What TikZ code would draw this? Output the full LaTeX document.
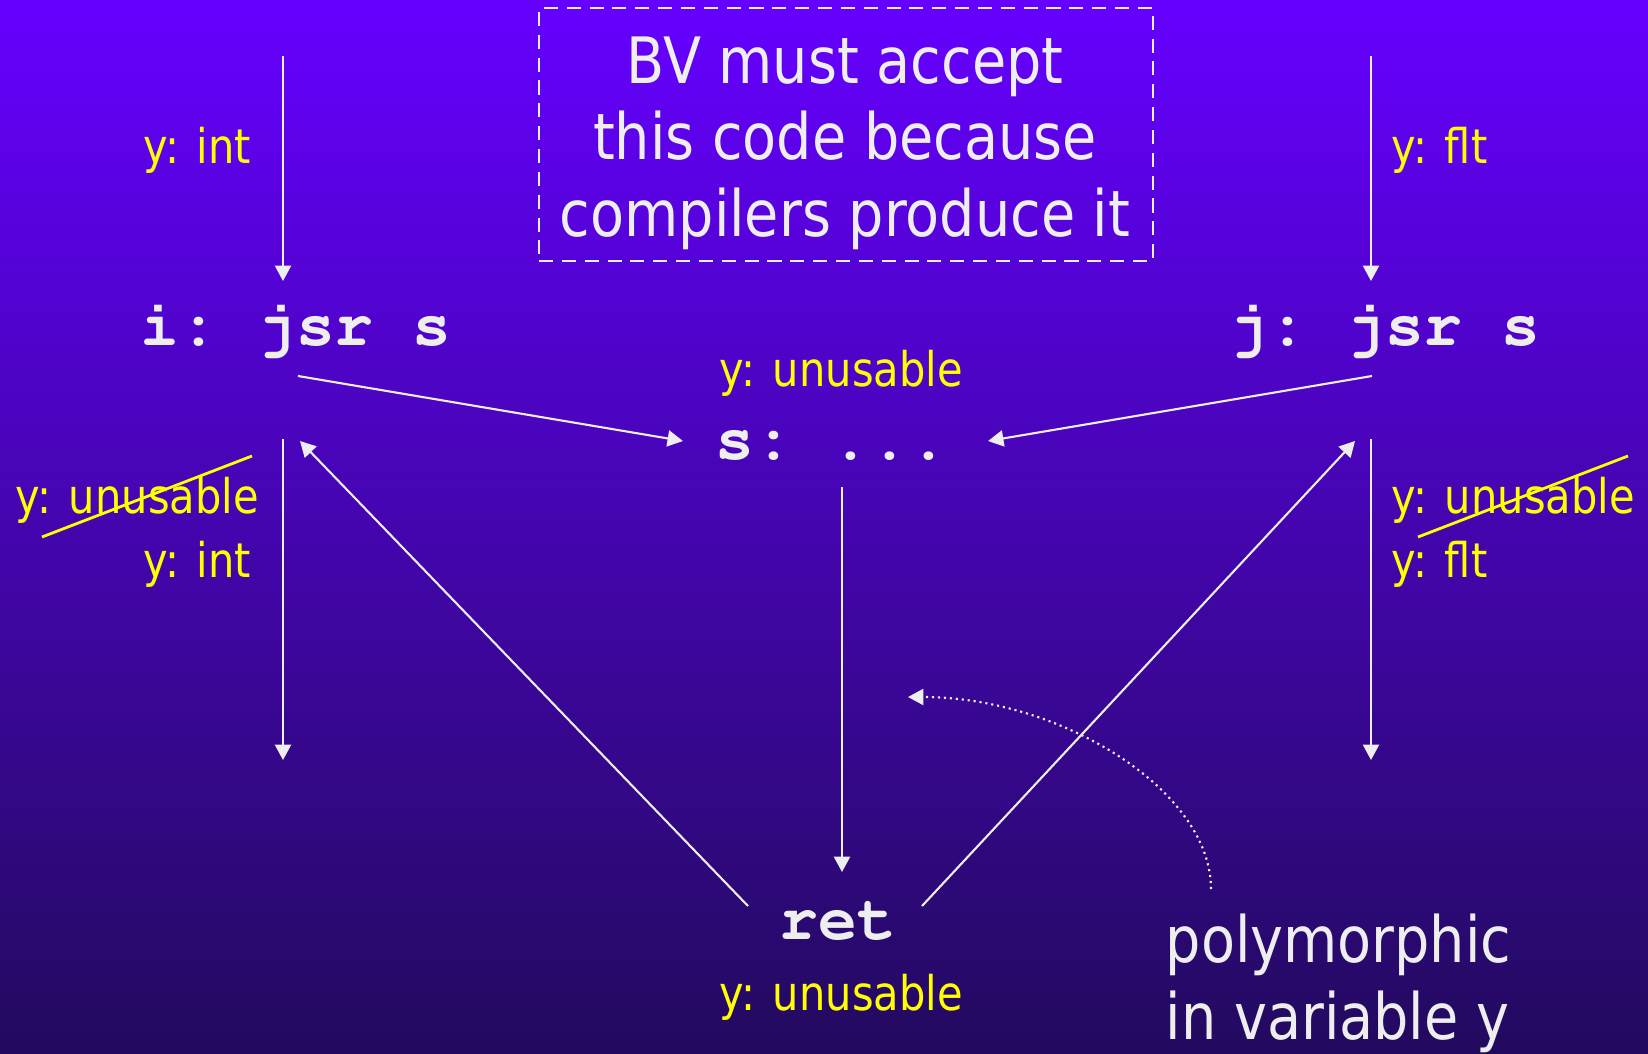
\documentclass[tikz,border=0pt]{standalone}
\usepackage[T1]{fontenc}
\usepackage{fontspec}
\setmainfont{DejaVu Sans}[FakeStretch=0.87]
\usetikzlibrary{arrows.meta}
\definecolor{bgtop}{HTML}{6600FF}
\definecolor{bgbot}{HTML}{220A5E}
\definecolor{chalk}{HTML}{EEEEEE}
\definecolor{ylw}{HTML}{FFFF00}
\newcommand{\courierbf}{\fontencoding{T1}\fontfamily{pcr}\fontseries{b}\fontsize{18.4}{22}\selectfont\frenchspacing}

\begin{document}
\begin{tikzpicture}[
  arr/.style={draw=chalk,line width=0.6pt,-{Triangle[length=4.4pt,width=4.6pt]}},
  code/.style={text=chalk,font=\courierbf,inner sep=0pt,anchor=base},
  note/.style={text=chalk,font=\fontsize{18.2}{21.8}\selectfont,inner sep=0pt},
  ty/.style={text=ylw,font=\fontsize{13.6}{16}\selectfont,inner sep=0pt,anchor=base west},
  strike/.style={draw=ylw,line width=0.8pt}]
\useasboundingbox (0,0) rectangle (16.48,-10.53);
\shade[top color=bgtop,bottom color=bgbot] (0,0) rectangle (16.48,-10.53);

\node[draw=chalk,line width=0.6pt,dash pattern=on 4pt off 2.5pt,minimum width=6.14cm,minimum height=2.53cm] (bv) at (8.46,-1.345) {};
\node[note,align=center] (bvtext) at (8.45,-1.43) {BV must accept\\this code because\\compilers produce it};

\node[code] (i) at (2.96,-3.45) {i: jsr s};
\node[code] (j) at (13.85,-3.45) {j: jsr s};
\node[code] (s) at (8.32,-4.59) {s: ...};
\node[code] (ret) at (8.38,-9.39) {ret};

\node[ty] (lint1) at (1.43,-1.63) {y: int};
\node[ty] (lunus) at (0.15,-5.13) {y: unusable};
\node[ty] (lint2) at (1.43,-5.77) {y: int};
\node[ty] (rflt1) at (13.91,-1.63) {y: flt};
\node[ty] (runus) at (13.91,-5.13) {y: unusable};
\node[ty] (rflt2) at (13.91,-5.77) {y: flt};
\node[ty] (sunus) at (7.19,-3.86) {y: unusable};
\node[ty] (retunus) at (7.19,-10.10) {y: unusable};
\node[note,align=left,anchor=west] (poly) at (11.65,-9.835) {polymorphic\\in variable y};

\draw[strike] ([shift={(0.27,-0.24)}]lunus.base west) -- ([shift={(2.37,0.57)}]lunus.base west);
\draw[strike] ([shift={(0.27,-0.24)}]runus.base west) -- ([shift={(2.37,0.57)}]runus.base west);

\coordinate (itop) at (2.83,-0.56); \coordinate (iin) at (2.83,-2.81);
\coordinate (jtop) at (13.71,-0.56); \coordinate (jin) at (13.71,-2.81);
\coordinate (iout) at (2.98,-3.76); \coordinate (jout) at (13.72,-3.76);
\coordinate (sinl) at (6.83,-4.41); \coordinate (sinr) at (9.88,-4.41);
\coordinate (idown) at (2.83,-4.39); \coordinate (ibot) at (2.83,-7.60);
\coordinate (jdown) at (13.71,-4.39); \coordinate (jbot) at (13.71,-7.60);
\coordinate (sout) at (8.42,-4.87); \coordinate (retin) at (8.42,-8.72);
\coordinate (retl) at (7.48,-9.06); \coordinate (iback) at (3.00,-4.41);
\coordinate (retr) at (9.22,-9.06); \coordinate (jback) at (13.55,-4.41);
\coordinate (polyfrom) at (12.11,-8.89); \coordinate (polyto) at (9.08,-6.97);

\draw[arr] (itop) -- (iin);
\draw[arr] (jtop) -- (jin);
\draw[arr] (iout) -- (sinl);
\draw[arr] (jout) -- (sinr);
\draw[arr] (idown) -- (ibot);
\draw[arr] (jdown) -- (jbot);
\draw[arr] (sout) -- (retin);
\draw[arr] (retl) -- (iback);
\draw[arr] (retr) -- (jback);
\draw[arr,dash pattern=on 0.6pt off 1.1pt] (polyfrom) .. controls (12.11,-7.9) and (10.6,-6.97) .. (polyto);
\end{tikzpicture}
\end{document}
